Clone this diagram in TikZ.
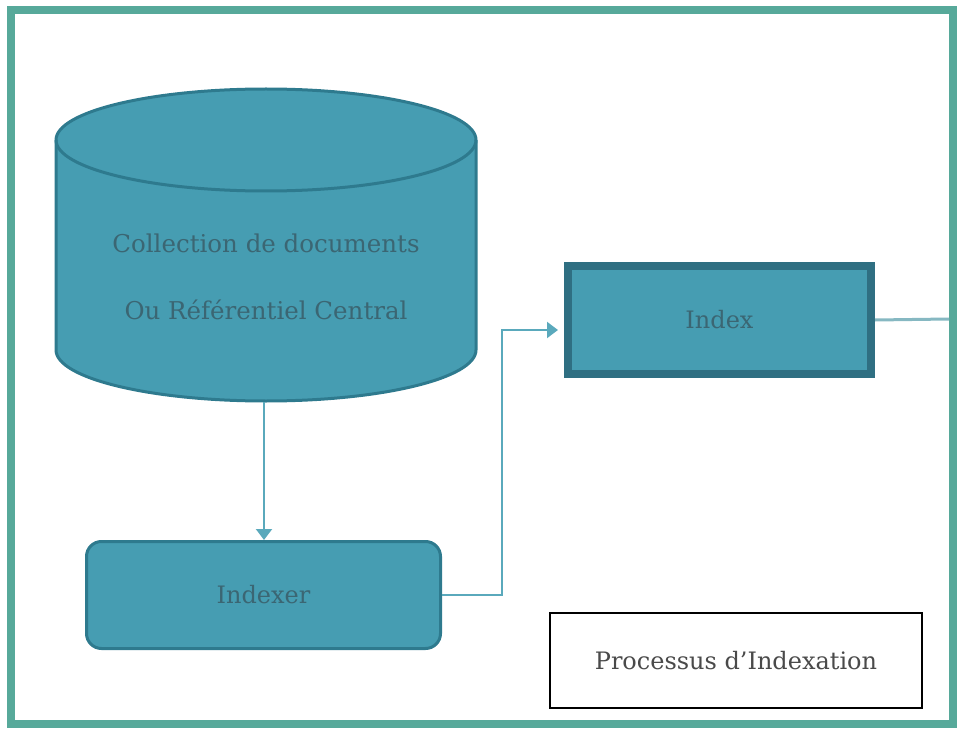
\documentclass[tikz,border=0pt]{standalone}
\usepackage{fontspec}
\setmainfont{DejaVu Serif}
\usetikzlibrary{arrows.meta}
\definecolor{cadre}{HTML}{57A99A}
\definecolor{bleu}{HTML}{469DB2}
\definecolor{bord}{HTML}{2E7A8E}
\definecolor{bordfort}{HTML}{2F6F82}
\definecolor{texte}{HTML}{3B6673}
\definecolor{lien}{HTML}{5AA9BC}
\definecolor{lienclair}{HTML}{86B8C2}
\definecolor{gris}{HTML}{4A4A4A}
\tikzset{bloc/.style={draw=bord,fill=bleu,text=texte,font=\fontsize{24}{28}\selectfont},
  lien/.style={draw=lien,line width=2pt,-{Triangle[width=16pt,length=11pt,fill=lien]}}}

\begin{document}
\begin{tikzpicture}[x=1pt,y=1pt]
    \useasboundingbox (0,0) rectangle (961,-738);
    % cadre
    \draw[cadre,line width=8pt] (11,-10) rectangle (953,-724);
    % collection (cylindre)
    \filldraw[fill=bleu,draw=bord,line width=3pt] (56,-140) -- (56,-350) arc[start angle=180,end angle=360,x radius=210,y radius=51] -- (476,-140) arc[start angle=0,end angle=180,x radius=210,y radius=51] -- cycle;
    \draw[bord,line width=3pt] (56,-140) arc[start angle=180,end angle=360,x radius=210,y radius=51];
    \coordinate (base) at (264,-402);
    \node[text=texte,align=center,font=\fontsize{24.5}{67}\selectfont] (coll) at (266,-277) {Collection de documents\\Ou Référentiel Central};
    % index
    \node[bloc,draw=bordfort,line width=8pt,minimum width=303pt,minimum height=108pt] (index) at (719.5,-320) {Index};
    % indexer
    \node[bloc,line width=3pt,rounded corners=15pt,minimum width=354pt,minimum height=107pt] (indexer) at (263.5,-595) {Indexer};
    % titre
    \node[draw=black,line width=1.5pt,fill=white,text=gris,minimum width=372pt,minimum height=95pt,font=\fontsize{24}{28}\selectfont] (titre) at (736,-660.5) {Processus d’Indexation};
    % liens
    \draw[lien] (base) -- (base |- indexer.north);
    \draw[lien,shorten >=6pt] (indexer.east) -- ++(60,0) |- ([yshift=-10pt]index.west);
    \coordinate (sortie) at (949,-319);
    \draw[lienclair,line width=3pt] (index.east) -- (sortie);
\end{tikzpicture}
\end{document}
